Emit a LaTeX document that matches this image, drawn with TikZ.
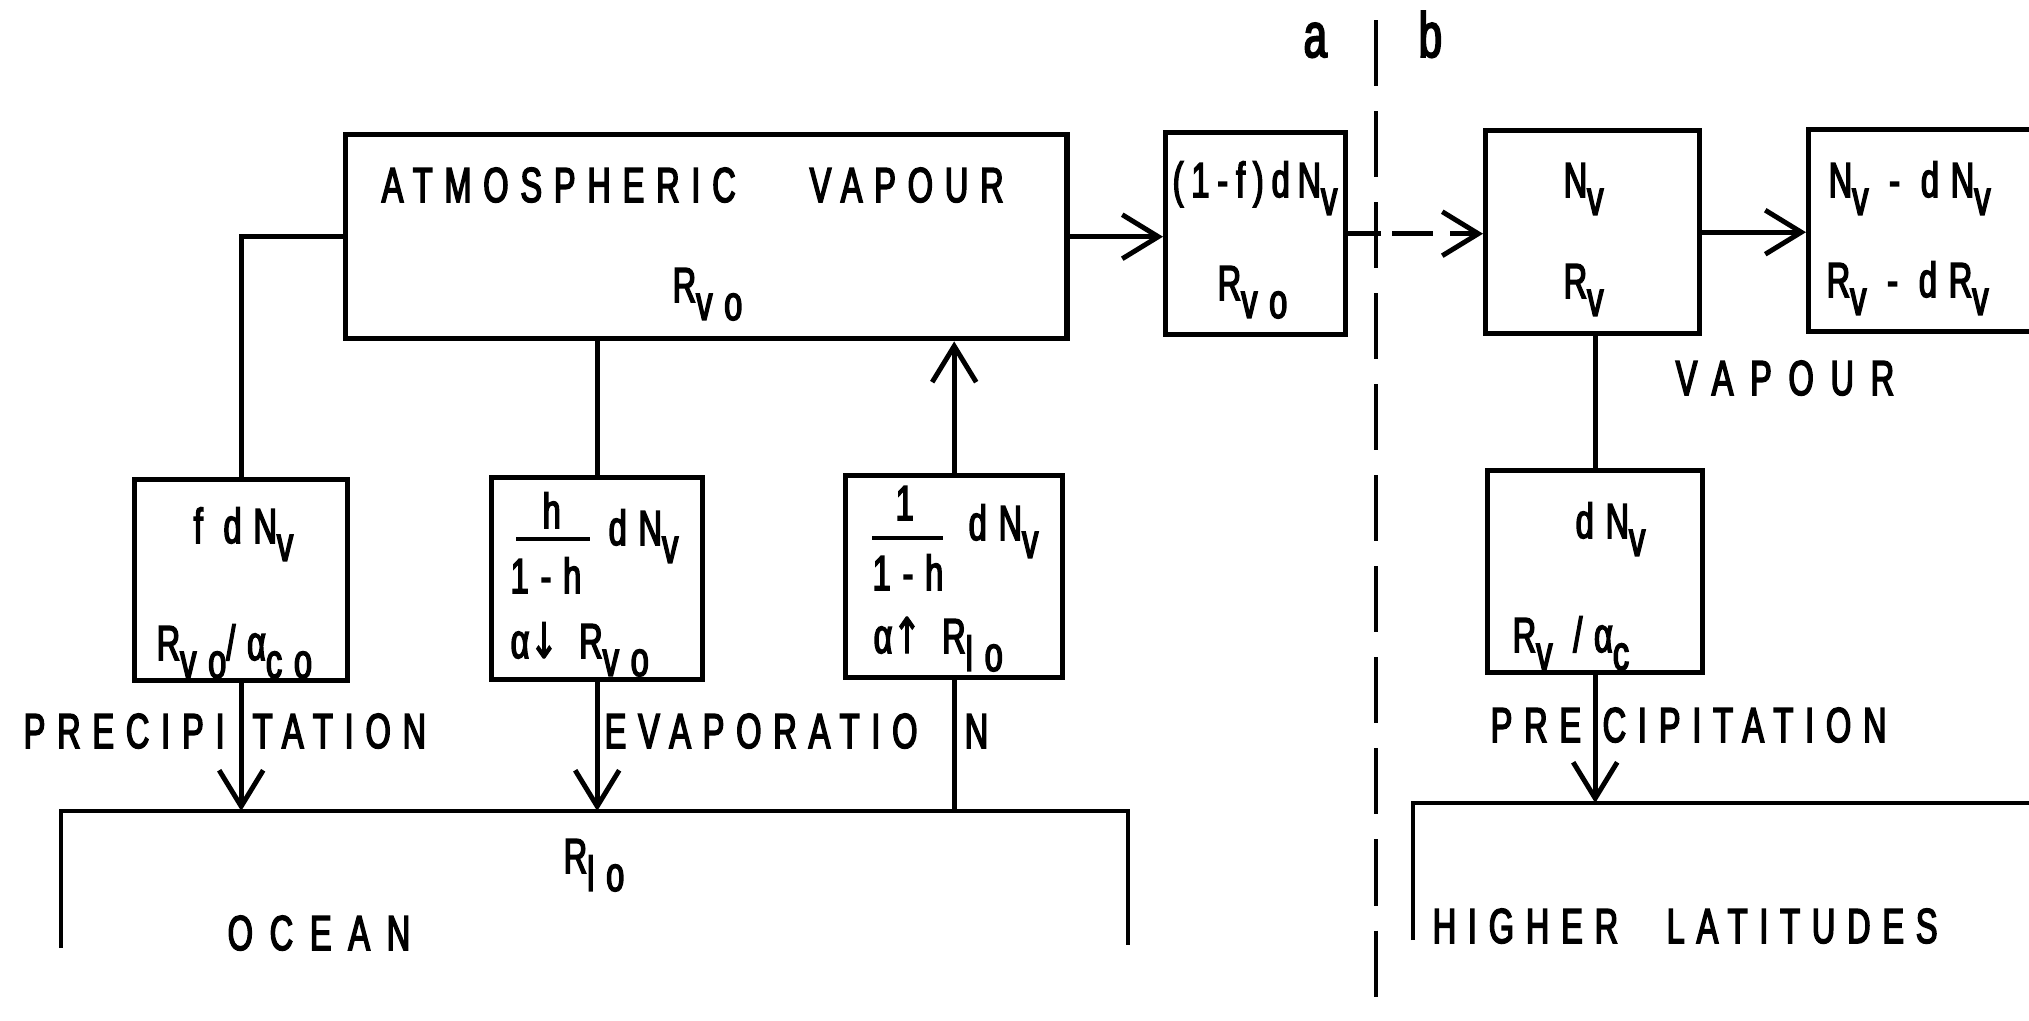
\documentclass[tikz,border=0pt]{standalone}
\usepackage{fontspec}
\setmainfont{Liberation Sans}[FakeStretch=0.66,LetterSpace=24,FakeBold=3]
\newfontfamily\arrfont{DejaVu Sans}[FakeStretch=0.7,FakeBold=2]
\usetikzlibrary{arrows.meta}
\newcommand\lsub[1]{\raisebox{-5.1pt}{#1}}
\newcommand\dnarr{{\arrfont ↓}}
\newcommand\uparr{{\arrfont ↑}}
\tikzset{
  box/.style={draw, line width=1.5pt, inner sep=0pt, anchor=north west},
  conn/.style={line width=1.4pt},
  arr/.style={conn, -{Straight Barb[length=3.6mm,width=4.4mm]}},
  lbl/.style={inner sep=0pt, anchor=base west, font=\fontsize{14pt}{16pt}\selectfont},
  tight/.style={inner sep=0pt, anchor=base west, font=\fontsize{14pt}{16pt}\selectfont\addfontfeature{LetterSpace=16}},
  wide/.style={inner sep=0pt, anchor=base west, font=\fontsize{14pt}{16pt}\selectfont\addfontfeature{LetterSpace=34}},
  side/.style={inner sep=0pt, anchor=base west, font=\fontsize{18pt}{20pt}\selectfont},
}
\begin{document}
\begin{tikzpicture}[x=0.01cm,y=-0.01cm]
\useasboundingbox (0,0) rectangle (2029,1020);
\fill[white] (0,0) rectangle (2029,1020);
\clip (0,0) rectangle (2029,1020);

% boxes
\node[box, minimum width=7.21cm, minimum height=2.04cm] (atm) at (343,132) {};
\node[box, minimum width=1.80cm, minimum height=2.02cm] (onef) at (1163,130) {};
\node[box, minimum width=2.14cm, minimum height=2.03cm] (nv) at (1483,128) {};
\node[box, minimum width=3.00cm, minimum height=2.02cm] (nvd) at (1806,127) {};
\node[box, minimum width=2.13cm, minimum height=2.01cm] (fbox) at (132,477) {};
\node[box, minimum width=2.11cm, minimum height=2.02cm] (hbox) at (489,475) {};
\node[box, minimum width=2.17cm, minimum height=2.02cm] (ihbox) at (843,473) {};
\node[box, minimum width=2.15cm, minimum height=2.02cm] (dnv) at (1485,468) {};

% open boxes: ocean and higher latitudes
\coordinate (ocsw) at (61,948);
\coordinate (ocnw) at (61,811);
\coordinate (ocne) at (1128,811);
\coordinate (ocse) at (1128,945);
\draw[conn] (ocsw) -- (ocnw) -- (ocne) -- (ocse);
\coordinate (hisw) at (1413,940);
\coordinate (hinw) at (1413,803);
\coordinate (hine) at (2040,803);
\draw[conn] (hisw) -- (hinw) -- (hine);

% divider
\coordinate (dtop) at (1376,20);
\coordinate (dbot) at (1376,1030);
\draw[conn, dash pattern=on 6.6mm off 2.5mm] (dtop) -- (dbot);

% connectors
\draw[conn] (atm.west) -- (atm.west -| fbox.north) -- (fbox.north);
\draw[conn] (hbox.north) -- (hbox.north |- atm.south);
\draw[arr] (ihbox.north) -- (ihbox.north |- atm.south);
\draw[arr] (fbox.south) -- (fbox.south |- ocnw);
\draw[arr] (hbox.south) -- (hbox.south |- ocnw);
\draw[conn] (ihbox.south |- ocnw) -- (ihbox.south);
\draw[arr] (atm.east) -- (atm.east -| onef.west);
\draw[arr, dash pattern=on 3.3mm off 1.1mm on 4.1mm off 1.7mm on 5mm] (onef.east) -- (onef.east -| nv.west);
\draw[arr] (nv.east) -- (nv.east -| nvd.west);
\draw[conn] (dnv.north |- nv.south) -- (dnv.north);
\draw[arr] (dnv.south) -- (dnv.south |- hinw);

% fraction bars
\draw[conn] (516,539) -- (590,539);
\draw[conn] (872,538) -- (943,538);

% texts
\node[side] (ta) at (1303,57) {a};
\node[side] (tb) at (1418,57) {b};

\node[lbl] (t1) at (381,202) {ATMOSPHERIC};
\node[lbl] (t2) at (809,202) {VAPOUR};
\node[lbl] (t3) at (672,302) {R\lsub{vo}};

\node[tight] (t4) at (1172,197) {(1-f)dN\lsub{v}};
\node[lbl] (t5) at (1217,300) {R\lsub{vo}};

\node[lbl] (t6) at (1563,197) {N\lsub{v}};
\node[lbl] (t7) at (1563,298) {R\lsub{v}};

\node[lbl] (t8) at (1828,197) {N\lsub{v} - dN\lsub{v}};
\node[lbl] (t9) at (1826,297) {R\lsub{v} - dR\lsub{v}};
\node[wide] (t10) at (1675,395) {VAPOUR};

\node[lbl] (t11) at (193,543) {f dN\lsub{v}};
\node[lbl] (t12) at (156,660) {R\lsub{vo}/α\lsub{co}};

\node[lbl] (t13) at (542,528) {h};
\node[lbl] (t14) at (510,593) {1-h};
\node[lbl] (t15) at (608,545) {dN\lsub{v}};
\node[lbl] (t16) at (510,658) {α\dnarr{} R\lsub{vo}};

\node[lbl] (t17) at (895,520) {1};
\node[lbl] (t18) at (872,590) {1-h};
\node[lbl] (t19) at (968,540) {dN\lsub{v}};
\node[lbl] (t20) at (873,653) {α\uparr{} R\lsub{lo}};

\node[lbl] (t21) at (1575,538) {dN\lsub{v}};
\node[lbl] (t22) at (1512,652) {R\lsub{v} /α\lsub{c}};

\node[lbl] (t23) at (23,748) {PRECIPI};
\node[lbl] (t24) at (252,748) {TATION};
\node[lbl] (t25) at (604,748) {EVAPORATIO};
\node[lbl] (t26) at (964,748) {N};
\node[lbl] (t27) at (1490,742) {PRE};
\node[lbl] (t28) at (1602,742) {CIPITATION};

\node[lbl] (t29) at (563,873) {R\lsub{lo}};
\node[wide] (t30) at (227,950) {OCEAN};
\node[lbl] (t31) at (1432,943) {HIGHER};
\node[lbl] (t32) at (1666,943) {LATITUDES};
\end{tikzpicture}
\end{document}
